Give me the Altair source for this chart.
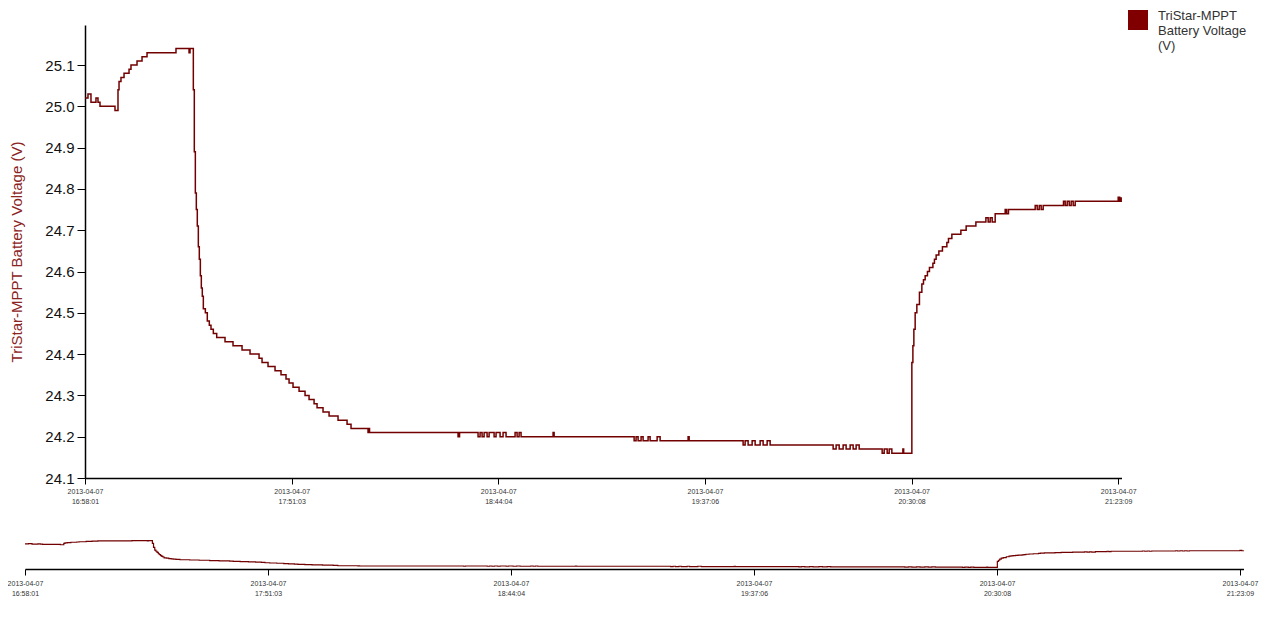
import altair as alt
import pandas as pd

DATE = "2013-04-07"
SERIES = "TriStar-MPPT Battery Voltage (V)"
LEGEND_LINES = ["TriStar-MPPT", "Battery Voltage", "(V)"]

TIMES = [
    "16:58:01", "16:58:47", "16:59:33", "17:00:50", "17:01:21", "17:01:52", "17:05:43", "17:06:29", "17:06:45", "17:07:15",
    "17:08:02", "17:09:19", "17:09:49", "17:11:22", "17:12:39", "17:13:56", "17:21:22", "17:24:43", "17:24:58", "17:25:49",
    "17:26:04", "17:26:20", "17:26:35", "17:26:50", "17:27:06", "17:27:21", "17:27:37", "17:27:52", "17:28:07", "17:28:23",
    "17:28:54", "17:29:24", "17:29:55", "17:30:21", "17:30:57", "17:31:49", "17:33:57", "17:36:00", "17:38:19", "17:40:22",
    "17:42:41", "17:43:27", "17:44:59", "17:46:47", "17:48:19", "17:49:36", "17:50:23", "17:51:24", "17:52:57", "17:54:29",
    "17:55:31", "17:56:48", "17:57:34", "17:59:06", "18:00:39", "18:02:57", "18:05:16", "18:06:17", "18:10:39", "18:10:50",
    "18:11:02", "18:33:45", "18:34:08", "18:38:53", "18:39:24", "18:39:55", "18:40:26", "18:41:12", "18:41:43", "18:43:00",
    "18:43:30", "18:44:32", "18:45:18", "18:46:04", "18:48:23", "18:48:54", "18:49:25", "18:49:55", "18:58:08", "18:58:24",
    "19:18:56", "19:19:26", "19:19:57", "19:20:43", "19:21:14", "19:22:31", "19:23:02", "19:24:50", "19:25:36", "19:32:47",
    "19:33:03", "19:46:54", "19:47:25", "19:48:11", "19:49:13", "19:49:59", "19:51:16", "19:52:02", "19:53:04", "19:53:50",
    "20:10:00", "20:10:46", "20:11:33", "20:12:34", "20:13:20", "20:14:22", "20:15:08", "20:15:54", "20:16:41", "20:22:35",
    "20:23:06", "20:23:52", "20:24:23", "20:25:04", "20:27:54", "20:28:06", "20:30:12", "20:30:28", "20:30:43", "20:31:03",
    "20:31:29", "20:32:09", "20:32:46", "20:33:11", "20:33:37", "20:34:12", "20:34:43", "20:35:36", "20:36:00", "20:36:26",
    "20:37:08", "20:38:03", "20:39:11", "20:39:36", "20:40:28", "20:42:47", "20:44:08", "20:46:38", "20:49:12", "20:49:47",
    "20:50:18", "20:50:49", "20:51:35", "20:54:09", "20:54:32", "20:55:00", "21:01:51", "21:02:22", "21:02:53", "21:03:23",
    "21:03:54", "21:09:07", "21:09:33", "21:10:04", "21:10:35", "21:11:05", "21:11:36", "21:12:07", "21:23:09", "21:23:32",
    "21:23:55",
]

VOLTS = [
    25.02, 25.03, 25.01, 25.02, 25.01, 25.00, 24.99, 25.04, 25.06, 25.07,
    25.08, 25.09, 25.10, 25.11, 25.12, 25.13, 25.14, 25.13, 25.14, 25.04,
    24.89, 24.79, 24.75, 24.71, 24.66, 24.63, 24.59, 24.56, 24.54, 24.51,
    24.50, 24.48, 24.47, 24.46, 24.45, 24.44, 24.43, 24.42, 24.41, 24.40,
    24.39, 24.38, 24.37, 24.36, 24.35, 24.34, 24.33, 24.32, 24.31, 24.30,
    24.29, 24.28, 24.27, 24.26, 24.25, 24.24, 24.23, 24.22, 24.21, 24.22,
    24.21, 24.20, 24.21, 24.20, 24.21, 24.20, 24.21, 24.20, 24.21, 24.20,
    24.21, 24.20, 24.21, 24.20, 24.21, 24.20, 24.21, 24.20, 24.21, 24.20,
    24.19, 24.20, 24.19, 24.20, 24.19, 24.20, 24.19, 24.20, 24.19, 24.20,
    24.19, 24.18, 24.19, 24.18, 24.19, 24.18, 24.19, 24.18, 24.19, 24.18,
    24.17, 24.18, 24.17, 24.18, 24.17, 24.18, 24.17, 24.18, 24.17, 24.16,
    24.17, 24.16, 24.17, 24.16, 24.17, 24.16, 24.38, 24.42, 24.46, 24.50,
    24.52, 24.55, 24.57, 24.58, 24.59, 24.60, 24.61, 24.62, 24.63, 24.64,
    24.65, 24.66, 24.67, 24.68, 24.69, 24.70, 24.71, 24.72, 24.73, 24.72,
    24.73, 24.72, 24.74, 24.75, 24.74, 24.75, 24.76, 24.75, 24.76, 24.75,
    24.76, 24.77, 24.76, 24.77, 24.76, 24.77, 24.76, 24.77, 24.78, 24.77,
    24.78,
]

TICK_TIMES = ["16:58:01", "17:51:03", "18:44:04", "19:37:06", "20:30:08", "21:23:09"]
Y_TICKS = [24.1, 24.2, 24.3, 24.4, 24.5, 24.6, 24.7, 24.8, 24.9, 25.0, 25.1]

MAIN_X_END = "21:24:00"
OVERVIEW_X_END = "21:23:55"

FONT = "Liberation Sans"
LINE_COLOR = "#720000"
SWATCH_COLOR = "#800000"
TITLE_COLOR = "#8b2323"

df = pd.DataFrame({
    "time": pd.to_datetime([f"{DATE} {t}" for t in TIMES]),
    "volts": VOLTS,
    "series": [SERIES] * len(TIMES),
})


def dt(s):
    h, m, sec = (int(p) for p in s.split(":"))
    return alt.DateTime(year=2013, month=4, date=7, hours=h, minutes=m, seconds=sec)


LABEL_EXPR = "[timeFormat(datum.value, '%Y-%m-%d'), timeFormat(datum.value, '%H:%M:%S')]"
LEGEND_EXPR = "[" + ", ".join(f"'{s}'" for s in LEGEND_LINES) + "]"

x_axis_common = dict(
    orient="bottom", values=[dt(t) for t in TICK_TIMES], labelExpr=LABEL_EXPR,
    title=None, grid=False, tickSize=6, labelPadding=3, labelFontSize=7,
    labelLineHeight=10, labelColor="#333333", labelFont=FONT,
    domainColor="#000000", domainWidth=1.5, tickColor="#000000", tickWidth=1,
    labelFlush=False, labelOverlap=False, labelBound=False,
)

main = alt.Chart(df).mark_line(interpolate="step-after", strokeWidth=1.5).encode(
    x=alt.X(
        "time:T",
        scale=alt.Scale(domain=[dt("16:58:01"), dt(MAIN_X_END)], range=[60, 1096.5]),
        axis=alt.Axis(offset=-91, **x_axis_common),
    ),
    y=alt.Y(
        "volts:Q",
        scale=alt.Scale(domain=[24.1, 25.197], range=[453, 0], zero=False, nice=False),
        axis=alt.Axis(
            orient="left", offset=-60, values=Y_TICKS, format=".1f", grid=False,
            tickSize=8, labelPadding=3, labelFontSize=15, labelFont=FONT,
            labelColor="#111111", domainColor="#000000", domainWidth=1.5,
            tickColor="#000000", tickWidth=1, title=SERIES, titleFont=FONT,
            titleFontSize=15, titleFontWeight="normal", titleColor=TITLE_COLOR,
            titleX=-61, titleY=226.5, titleAngle=270, titleBaseline="bottom",
            titleAlign="center",
        ),
    ),
    color=alt.Color(
        "series:N",
        scale=alt.Scale(range=[LINE_COLOR]),
        legend=alt.Legend(
            orient="none", legendX=1103, legendY=-15, title=None,
            symbolType="square", symbolSize=400, symbolStrokeWidth=0,
            symbolFillColor=SWATCH_COLOR, symbolStrokeColor=SWATCH_COLOR,
            symbolOpacity=1,
            labelExpr=LEGEND_EXPR, labelFontSize=13, labelFont=FONT,
            labelColor="#333333", labelOffset=10, labelBaseline="alphabetic",
            labelLimit=0, padding=0,
        ),
    ),
)

overview = alt.Chart(df).mark_line(interpolate="step-after", strokeWidth=1.2, color=LINE_COLOR).encode(
    x=alt.X(
        "time:T",
        scale=alt.Scale(domain=[dt("16:58:01"), dt(OVERVIEW_X_END)], range=[0, 1218.5]),
        axis=alt.Axis(offset=0, labelPadding=4, **{k: v for k, v in x_axis_common.items() if k != "labelPadding"}),
    ),
    y=alt.Y(
        "volts:Q",
        scale=alt.Scale(domain=[24.1, 25.2], range=[544, 514], zero=False, nice=False),
        axis=None,
    ),
)

chart = alt.layer(main, overview).resolve_scale(
    x="independent", y="independent"
).properties(
    width=1232, height=544,
    autosize=alt.AutoSizeParams(type="none"),
    padding={"left": 17, "top": 17, "right": 4, "bottom": 45},
    background="white",
).configure_view(stroke=None)

chart.save("out.html", embed_options={"renderer": "svg", "actions": False})
